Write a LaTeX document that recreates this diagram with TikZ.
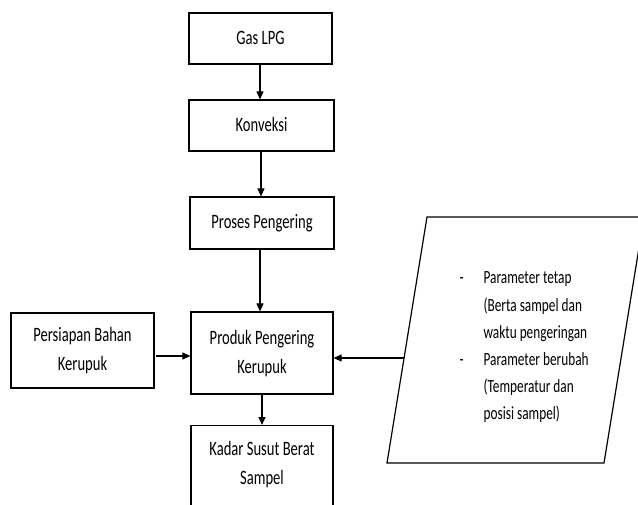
\documentclass[tikz,border=0pt]{standalone}
\usepackage{fontspec}
\setmainfont{Carlito}
\usepackage{graphicx}
\usepackage{tikz}
\usetikzlibrary{arrows.meta}

\newcommand{\tall}[1]{\scalebox{1}[1.4]{\begin{tabular}[t]{@{}c@{}}#1\end{tabular}}}

\begin{document}
\begin{tikzpicture}[x=1pt,y=-1pt,line width=1.2pt,
  >={Triangle[length=8pt,width=7pt]},
  box/.style={draw,align=center,inner sep=0pt,font=\fontsize{14.6}{20.7}\selectfont},
  flow/.style={->,line width=1.1pt}]
\useasboundingbox (0,0) rectangle (638,505);
\clip (0,0) rectangle (638,505);
\node (gas) at (260.5,38.5) [box,minimum width=143pt,minimum height=51pt] {\tall{Gas LPG}};
\node (konveksi) at (261.5,125.5) [box,minimum width=145pt,minimum height=51pt] {\tall{Konveksi}};
\node (proses) at (262,223) [box,minimum width=144pt,minimum height=52pt] {\tall{Proses Pengering}};
\node (produk) at (262,353) [box,minimum width=142pt,minimum height=82pt] {\tall{Produk Pengering\\Kerupuk}};
\node (persiapan) at (82.5,350.5) [box,minimum width=143pt,minimum height=75pt] {\tall{Persiapan Bahan\\Kerupuk}};
\node (kadar) at (262,425) [box,anchor=north,minimum width=142pt,inner ysep=10pt,text depth=60pt] {\tall{Kadar Susut Berat\\Sampel}};
% parameter
\draw (427,217) -- (644,217) -- (604,463) -- (387,463) -- cycle;
\coordinate (param) at (403.5,358);
\node (teks) at (459,284) [anchor=base west,inner sep=0pt,font=\fontsize{13.3}{19.3}\selectfont]
  {\scalebox{1}[1.4]{\begin{tabular}[t]{@{}p{24pt}@{}l@{}}
  - & Parameter tetap\\
    & (Berta sampel dan\\
    & waktu pengeringan\\
  - & Parameter berubah\\
    & (Temperatur dan\\
    & posisi sampel)
  \end{tabular}}};
\coordinate (bahan) at (156,356);
\draw[flow] (gas.south -| 260,0) -- (konveksi.north -| 260,0);
\draw[flow] (konveksi.south -| 261,0) -- (proses.north -| 261,0);
\draw[flow] (proses.south -| 260,0) -- (produk.north -| 260,0);
\draw[flow] (produk.south -| 262,0) -- (kadar.north -| 262,0);
\draw[flow] (bahan) -- (bahan -| produk.west);
\draw[flow] (param) -- (param -| produk.east);
\end{tikzpicture}
\end{document}
